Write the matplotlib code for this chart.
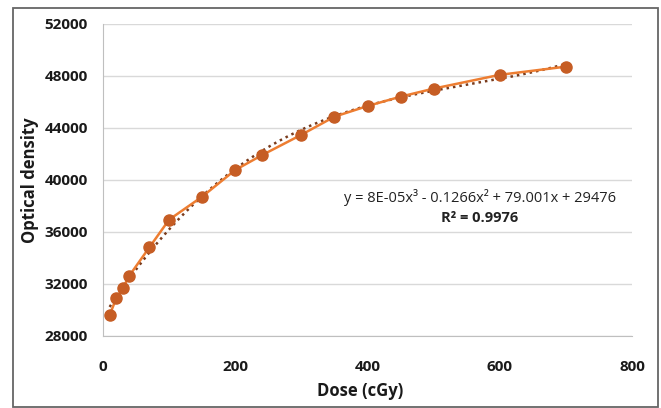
import numpy as np
import matplotlib.pyplot as plt
from matplotlib.patches import Rectangle

plt.rcParams['font.family'] = ['Open Sans', 'DejaVu Sans']

# measured points
dose = [10, 20, 30, 40, 70, 100, 150, 200, 240, 300, 350, 400, 450, 500, 600, 700]
od = [29600, 30900, 31690, 32650, 34810, 36950, 38720, 40770, 41900, 43480,
      44870, 45690, 46410, 47030, 48090, 48720]

x_ticks = [0, 200, 400, 600, 800]
y_ticks = [28000, 32000, 36000, 40000, 44000, 48000, 52000]

eq_text = "y = 8E-05x³ - 0.1266x² + 79.001x + 29476"
r2_text = "R² = 0.9976"

fig = plt.figure(figsize=(6.61, 4.08), dpi=100)
ax = fig.add_axes([103 / 661, 1 - 336 / 408, (632 - 103) / 661, (336 - 24) / 408])

# frame around the whole figure
fig.patches.append(Rectangle((13 / 661, 1 / 408), (658 - 13) / 661, (400 - 1) / 408,
                             transform=fig.transFigure, fill=False,
                             edgecolor='#666666', linewidth=1.3))

# cubic trendline fitted to the points
coef = np.polyfit(dose, od, 3)
xs = np.linspace(min(dose), max(dose), 300)
ax.plot(xs, np.polyval(coef, xs), linestyle=(0, (1, 1.6)), color='#7a3b1c',
        linewidth=1.8, zorder=3)

ax.plot(dose, od, color='#ED7D31', linewidth=1.8, marker='o', markersize=8,
        markerfacecolor='#C65D24', markeredgecolor='#C65D24', zorder=4)

ax.set_xlim(0, 800)
ax.set_ylim(28000, 52000)
ax.set_xticks(x_ticks)
ax.set_yticks(y_ticks)
ax.grid(axis='y', color='#d9d9d9', linewidth=1)
ax.set_axisbelow(True)
for s in ['top', 'right']:
    ax.spines[s].set_visible(False)
for s in ['left', 'bottom']:
    ax.spines[s].set_color('#bfbfbf')
ax.tick_params(length=0, labelsize=11)
ax.tick_params(axis='x', pad=17)
ax.tick_params(axis='y', pad=11)
for lbl in ax.get_xticklabels() + ax.get_yticklabels():
    lbl.set_fontweight('bold')
    lbl.set_color('#1a1a1a')

ax.set_xlabel("Dose (cGy)", fontsize=12, fontweight='bold', color='#1a1a1a', va='center')
ax.set_ylabel("Optical density", fontsize=12, fontweight='bold', color='#1a1a1a', va='center')
ax.xaxis.set_label_coords(0.487, -0.175)
ax.yaxis.set_label_coords(-0.138, 0.5)

ax.text(570, 38650, eq_text, ha='center', va='center', fontsize=10.5, color='#222222')
ax.text(570, 37100, r2_text, ha='center', va='center', fontsize=10.5,
        fontweight='bold', color='#222222')

fig.savefig("out.png", dpi=100)
